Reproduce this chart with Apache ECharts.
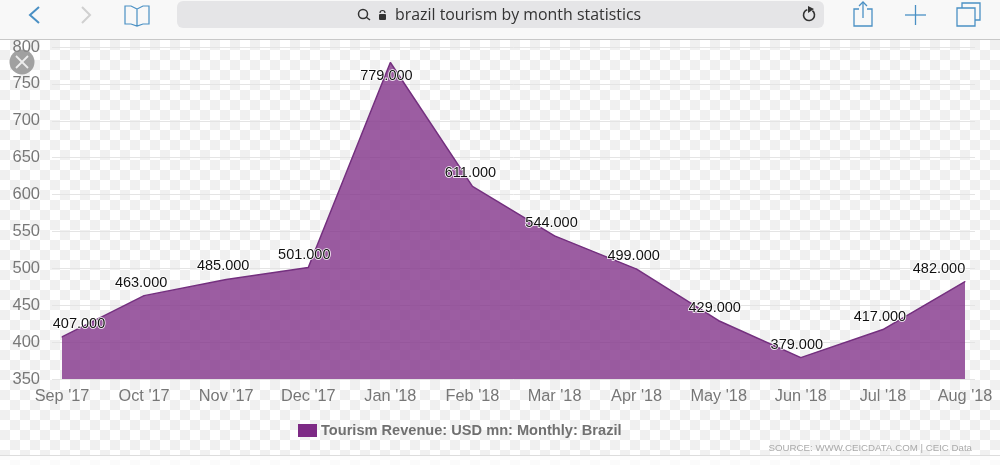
<!DOCTYPE html>
<html>
<head>
<meta charset="utf-8">
<script src="https://cdn.jsdelivr.net/npm/echarts@6/dist/echarts.min.js"></script>
<style>
html,body{margin:0;padding:0;}
body{width:1000px;height:465px;overflow:hidden;background:#fff repeating-conic-gradient(#f0f0f0 0 25%,#fff 0 50%) 0 0/20px 20px;}
#main{width:1000px;height:465px;}
</style>
</head>
<body>
<div id="main"></div>
<script>
var months = ["Sep '17","Oct '17","Nov '17","Dec '17","Jan '18","Feb '18","Mar '18","Apr '18","May '18","Jun '18","Jul '18","Aug '18"];
var values = [407,463,485,501,779,611,544,499,429,379,417,482];
// label offset from the point
var offsets = [[17,0],[-3,0],[-3,0],[-4,0],[-4,27],[-2,0],[-3,0],[-3,0],[-4,0],[-4,0],[-3,0],[-26,0]];

var seriesData = [];
for (var i = 0; i < values.length; i++) {
	seriesData.push({value: values[i], label: {offset: offsets[i]}});
}

var fontName = '"Liberation Sans", Arial, sans-serif';
var blue = '#4a90c4';

var option = {
	animation: false,
	textStyle: {fontFamily: fontName},
	grid: [
		{left: 62, right: 35, top: 47, bottom: 86},
		{left: 52, right: 25, top: 47, bottom: 86}
	],
	legend: {
		left: 298,
		top: 423,
		padding: 0,
		itemWidth: 19,
		itemHeight: 13,
		itemGap: 0,
		icon: 'rect',
		data: ['Tourism Revenue: USD mn: Monthly: Brazil'],
		textStyle: {color: '#707070', fontSize: 14.6, fontWeight: 'bold', fontFamily: fontName, padding: [0, 0, 0, -1]}
	},
	xAxis: [
		{
			type: 'category',
			gridIndex: 0,
			boundaryGap: false,
			data: months,
			axisLine: {show: false},
			axisTick: {show: false},
			axisLabel: {interval: 0, color: '#777', fontSize: 16.3, margin: 10, hideOverlap: false}
		},
		{type: 'category', gridIndex: 1, show: false, data: months}
	],
	yAxis: [
		{type: 'value', gridIndex: 0, min: 350, max: 800, interval: 50, show: false},
		{
			type: 'value',
			gridIndex: 1,
			min: 350,
			max: 800,
			interval: 50,
			axisLine: {show: false},
			axisTick: {show: false},
			axisLabel: {color: '#777', fontSize: 16.5, margin: 12, padding: [4, 0, 0, 0]},
			splitLine: {show: true, lineStyle: {color: '#e4e4e4', width: 1}}
		}
	],
	series: [
		{
			name: 'Tourism Revenue: USD mn: Monthly: Brazil',
			type: 'line',
			xAxisIndex: 0,
			yAxisIndex: 0,
			symbol: 'circle',
			symbolSize: 1,
			showAllSymbol: true,
			data: seriesData,
			itemStyle: {color: '#7d2a85'},
			lineStyle: {color: '#74307f', width: 1.5},
			areaStyle: {color: '#7d2a85', opacity: 0.76},
			label: {
				show: true,
				position: 'top',
				distance: 5,
				color: '#111',
				fontSize: 14.5,
				fontFamily: fontName,
				textBorderColor: '#fff',
				textBorderWidth: 1.5,
				formatter: function (p) { return p.value.toFixed(3); }
			},
			z: 3
		}
	],
	graphic: [
		// browser bar on top of the screenshot
		{type: 'rect', z: 10, shape: {x: 0, y: 0, width: 1000, height: 39}, style: {fill: '#f8f8f8'}},
		{type: 'line', z: 10, shape: {x1: 0, y1: 39.5, x2: 1000, y2: 39.5}, style: {stroke: '#c8c8c8', lineWidth: 1}},
		{type: 'rect', z: 10, shape: {x: 177, y: 1, width: 647, height: 27, r: 6}, style: {fill: '#e5e5e7'}},
		{type: 'polyline', z: 11, shape: {points: [[39, 7], [30, 15], [39, 23]]}, style: {stroke: blue, lineWidth: 2, fill: 'none'}},
		{type: 'polyline', z: 11, shape: {points: [[82, 7], [90, 15], [82, 23]]}, style: {stroke: '#d0d0d0', lineWidth: 2, fill: 'none'}},
		{type: 'polyline', z: 11, shape: {points: [[137, 9], [131, 6], [125, 6], [125, 24], [131, 24], [137, 26], [143, 24], [149, 24], [149, 6], [143, 6], [137, 9], [137, 26]]}, style: {stroke: blue, lineWidth: 1.2, fill: 'none'}},
		{type: 'circle', z: 11, shape: {cx: 363, cy: 14, r: 4.5}, style: {stroke: '#333', lineWidth: 1.5, fill: 'none'}},
		{type: 'line', z: 11, shape: {x1: 366, y1: 17, x2: 370, y2: 20}, style: {stroke: '#333', lineWidth: 1.5}},
		{type: 'rect', z: 11, shape: {x: 379, y: 14, width: 7, height: 6, r: 1}, style: {fill: '#333'}},
		{type: 'arc', z: 11, shape: {cx: 382.5, cy: 13, r: 2.5, startAngle: Math.PI, endAngle: 0}, style: {stroke: '#333', lineWidth: 1.2, fill: 'none'}},
		{type: 'text', z: 11, style: {x: 395, y: 15, text: 'brazil tourism by month statistics', fill: '#333', font: '15.9px "Open Sans", sans-serif', textVerticalAlign: 'middle'}},
		{type: 'arc', z: 11, shape: {cx: 809, cy: 15, r: 5.5, startAngle: -0.9, endAngle: 4.4}, style: {stroke: '#333', lineWidth: 1.6, fill: 'none'}},
		{type: 'polygon', z: 11, shape: {points: [[808, 6], [814, 9], [808, 13]]}, style: {fill: '#333'}},
		{type: 'polyline', z: 11, shape: {points: [[859, 9], [854, 9], [854, 26], [872, 26], [872, 9], [867, 9]]}, style: {stroke: blue, lineWidth: 1.3, fill: 'none'}},
		{type: 'polyline', z: 11, shape: {points: [[859, 6], [863, 2], [867, 6]]}, style: {stroke: blue, lineWidth: 1.3, fill: 'none'}},
		{type: 'line', z: 11, shape: {x1: 863, y1: 2, x2: 863, y2: 18}, style: {stroke: blue, lineWidth: 1.3}},
		{type: 'line', z: 11, shape: {x1: 905, y1: 15, x2: 926, y2: 15}, style: {stroke: blue, lineWidth: 1.3}},
		{type: 'line', z: 11, shape: {x1: 915.5, y1: 5, x2: 915.5, y2: 25}, style: {stroke: blue, lineWidth: 1.3}},
		{type: 'rect', z: 11, shape: {x: 957, y: 8, width: 18, height: 18}, style: {stroke: blue, lineWidth: 1.3, fill: '#f8f8f8'}},
		{type: 'polyline', z: 11, shape: {points: [[962, 8], [962, 3], [980, 3], [980, 20], [975, 20]]}, style: {stroke: blue, lineWidth: 1.3, fill: 'none'}},
		// close button of the ad overlay
		{type: 'circle', z: 11, shape: {cx: 22, cy: 62, r: 12.5}, style: {fill: 'rgba(140,140,140,0.8)'}},
		{type: 'line', z: 12, shape: {x1: 16, y1: 56, x2: 28, y2: 68}, style: {stroke: '#eee', lineWidth: 1.8}},
		{type: 'line', z: 12, shape: {x1: 28, y1: 56, x2: 16, y2: 68}, style: {stroke: '#eee', lineWidth: 1.8}},
		// source line and bottom edge
		{type: 'text', z: 5, style: {x: 972, y: 448, text: 'SOURCE: WWW.CEICDATA.COM | CEIC Data', fill: '#aaa', font: '9.7px ' + fontName, textAlign: 'right', textVerticalAlign: 'middle'}},
		{type: 'line', z: 5, shape: {x1: 0, y1: 455.5, x2: 1000, y2: 455.5}, style: {stroke: '#ddd', lineWidth: 1}},
		{type: 'rect', z: 5, shape: {x: 0, y: 456, width: 1000, height: 9}, style: {fill: 'rgba(255,255,255,0.7)'}}
	]
};

var chart = echarts.init(document.getElementById('main'));
chart.setOption(option);
</script>
</body>
</html>
